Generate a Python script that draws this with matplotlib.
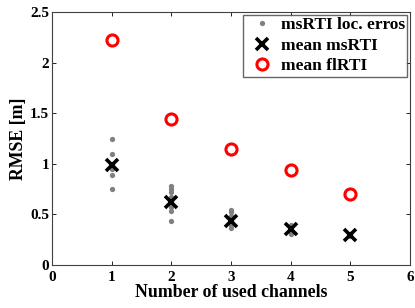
import matplotlib.pyplot as plt
import numpy as np

plt.rcParams['font.family'] = ['Liberation Serif', 'DejaVu Serif']
plt.rcParams['font.weight'] = 'bold'

channels = [1, 2, 3, 4, 5]

# individual msRTI localisation errors per channel count
err_1 = [1.25, 1.10, 1.00, 0.95, 0.89, 0.75]
err_2 = [0.78, 0.75, 0.72, 0.67, 0.62, 0.57, 0.53, 0.43]
err_3 = [0.54, 0.52, 0.48, 0.43, 0.40, 0.37]
err_4 = [0.40, 0.38, 0.35, 0.32, 0.31]
err_5 = [0.31, 0.30, 0.29]
errors = [err_1, err_2, err_3, err_4, err_5]

mean_msrti = [0.99, 0.625, 0.435, 0.355, 0.30]
mean_flrti = [2.22, 1.44, 1.15, 0.94, 0.70]

fig = plt.figure(figsize=(4.15, 3.08), dpi=100)
ax = fig.add_axes([0.1253, 0.1396, 0.8627, 0.8214])

xs = np.concatenate([[c] * len(e) for c, e in zip(channels, errors)])
ys = np.concatenate(errors)
ax.plot(xs, ys, 'o', color='#808080', markersize=3.8, markeredgewidth=0,
        label='msRTI loc. erros')
ax.plot(channels, mean_msrti, 'x', color='black', markersize=8,
        markeredgewidth=2.6, label='mean msRTI')
ax.plot(channels, mean_flrti, 'o', color='red', markerfacecolor='none',
        markersize=8, markeredgewidth=2.2, label='mean flRTI')

ax.set_xlim(0, 6)
ax.set_ylim(0, 2.5)
ax.set_xticks(range(0, 7))
ax.set_yticks([0, 0.5, 1, 1.5, 2, 2.5])
ax.set_yticklabels(['0', '0.5', '1', '1.5', '2', '2.5'])
ax.tick_params(direction='in', top=True, right=True, labelsize=11,
               length=3, width=0.6)
ax.tick_params(axis='x', pad=4)
ax.tick_params(axis='y', pad=2)
for s in ax.spines.values():
    s.set_linewidth(0.8)
    s.set_color('#404040')

ax.set_xlabel('Number of used channels', fontsize=12.8, fontweight='bold',
              labelpad=0)
ax.set_ylabel('RMSE [m]', fontsize=12.8, fontweight='bold', labelpad=2)

ax.legend(loc='upper right', fontsize=12.5, frameon=True, fancybox=False,
          edgecolor='#404040', borderpad=0.15, labelspacing=0.25,
          handletextpad=0.2, handlelength=1.8, borderaxespad=0.15)

fig.savefig('out.png', dpi=100)
